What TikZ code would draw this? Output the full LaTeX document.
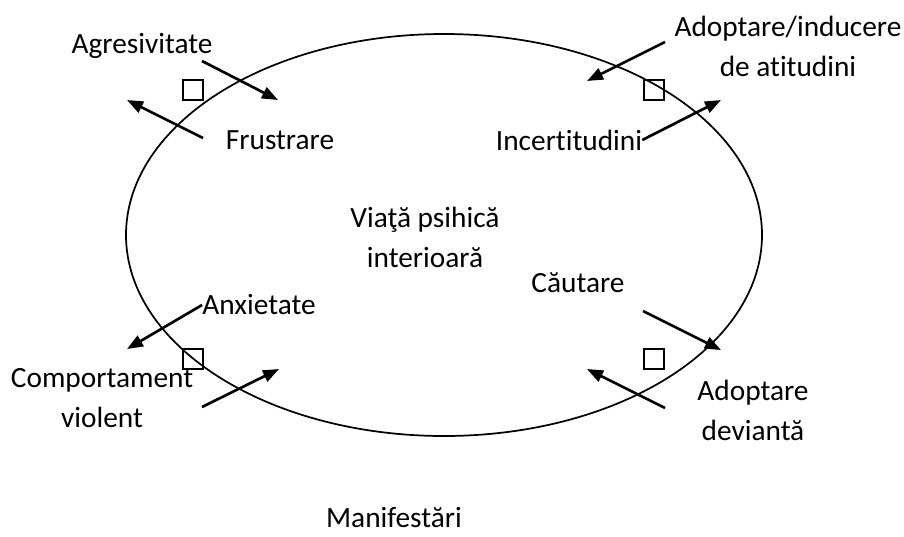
\documentclass[tikz,border=0pt]{standalone}
\usepackage{fontspec}
\setmainfont{Carlito}[Ligatures={NoCommon}]
\usetikzlibrary{arrows.meta}

\tikzset{
  lbl/.style={inner sep=0pt, align=center, font=\fontsize{22}{30}\selectfont},
  arr/.style={line width=2pt, -{Triangle[length=12pt,width=9pt]}},
  sq/.style={draw, line width=1.2pt, minimum size=15pt, inner sep=0pt}
}

\begin{document}
\begin{tikzpicture}[x=0.75pt,y=-0.75pt]
  % Page frame
  \useasboundingbox (0,0) rectangle (904,536);

  % Inner psychic life (ellipse)
  \draw[line width=1.3pt] (444,235) ellipse (318 and 201);
  \node[lbl] (viata) at (425,237) {Viaţă psihică\\interioară};

  % Labels
  \node[lbl] (agres) at (142,46) {Agresivitate};
  \node[lbl] (frustr) at (280,140) {Frustrare};
  \node[lbl] (adopt) at (788,46) {Adoptare/inducere\\de atitudini};
  \node[lbl] (incert) at (569,140) {Incertitudini};
  \node[lbl] (anx) at (259,305) {Anxietate};
  \node[lbl] (comp) at (102,398) {Comportament\\violent};
  \node[lbl] (caut) at (578,283) {Căutare};
  \node[lbl] (adev) at (753,410) {Adoptare\\deviantă};
  \node[lbl] (manif) at (394,518) {Manifestări};

  % Small squares on the border
  \node[sq] (sqa) at (193,90) {};
  \node[sq] (sqb) at (654,90) {};
  \node[sq] (sqc) at (193,359) {};
  \node[sq] (sqd) at (654,359) {};

  % Arrow ends
  \coordinate (a1) at (202,61);  \coordinate (a2) at (278,100);
  \coordinate (f1) at (203,138); \coordinate (f2) at (127,100);
  \coordinate (d1) at (665,42);  \coordinate (d2) at (587,81);
  \coordinate (i2) at (721,100);
  \coordinate (x2) at (127,349);
  \coordinate (c1) at (202,407); \coordinate (c2) at (279,369);
  \coordinate (u1) at (643,311); \coordinate (u2) at (721,350);
  \coordinate (v1) at (665,408); \coordinate (v2) at (587,369);

  % Arrows
  \draw[arr] (a1) -- (a2);
  \draw[arr] (f1) -- (f2);
  \draw[arr] (d1) -- (d2);
  \draw[arr] (incert.east) -- (i2);
  \draw[arr] (anx.west) -- (x2);
  \draw[arr] (c1) -- (c2);
  \draw[arr] (u1) -- (u2);
  \draw[arr] (v1) -- (v2);
\end{tikzpicture}
\end{document}
